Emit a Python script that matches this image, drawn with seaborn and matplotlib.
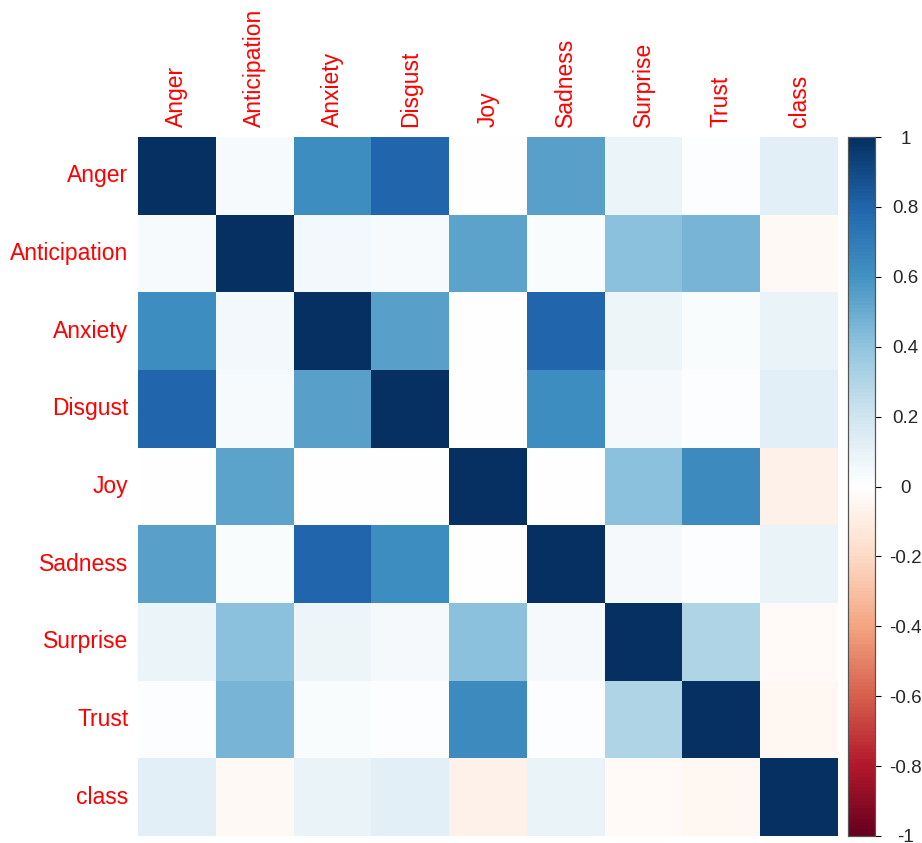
import numpy as np
import pandas as pd
import matplotlib
matplotlib.use("Agg")
import matplotlib.pyplot as plt
from matplotlib.colors import LinearSegmentedColormap
import seaborn as sns

labels = ["Anger", "Anticipation", "Anxiety", "Disgust", "Joy", "Sadness", "Surprise", "Trust", "class"]

anger        = [1.00, 0.03, 0.62, 0.79, 0.00, 0.54, 0.08, 0.01, 0.12]
anticipation = [0.03, 1.00, 0.05, 0.03, 0.53, 0.02, 0.41, 0.46, -0.04]
anxiety      = [0.62, 0.05, 1.00, 0.54, 0.00, 0.79, 0.07, 0.02, 0.09]
disgust      = [0.79, 0.03, 0.54, 1.00, 0.00, 0.62, 0.04, 0.01, 0.13]
joy          = [0.00, 0.53, 0.00, 0.00, 1.00, 0.00, 0.41, 0.63, -0.08]
sadness      = [0.54, 0.02, 0.79, 0.62, 0.00, 1.00, 0.04, 0.01, 0.09]
surprise     = [0.08, 0.41, 0.07, 0.04, 0.41, 0.04, 1.00, 0.30, -0.03]
trust        = [0.01, 0.46, 0.02, 0.01, 0.63, 0.01, 0.30, 1.00, -0.05]
class_row    = [0.12, -0.04, 0.09, 0.13, -0.08, 0.09, -0.03, -0.05, 1.00]

cbar_ticks = [-1, -0.8, -0.6, -0.4, -0.2, 0, 0.2, 0.4, 0.6, 0.8, 1]
cbar_labels = ["-1", "-0.8", "-0.6", "-0.4", "-0.2", "0", "0.2", "0.4", "0.6", "0.8", "1"]

df = pd.DataFrame([anger, anticipation, anxiety, disgust, joy, sadness, surprise, trust, class_row],
                  index=labels, columns=labels)

col2 = ["#67001F", "#B2182B", "#D6604D", "#F4A582", "#FDDBC7", "#FFFFFF",
        "#D1E5F0", "#92C5DE", "#4393C3", "#2166AC", "#053061"]
cmap = LinearSegmentedColormap.from_list("corrRdBu", col2, N=200)

sns.set_style("white")
plt.rcParams['font.family'] = ['Liberation Sans', 'DejaVu Sans']

fig = plt.figure(figsize=(9.22, 8.43), dpi=100)
ax = fig.add_axes([138/922, 1-836/843, 700/922, 699/843])
cax = fig.add_axes([848/922, 1-836/843, 27/922, 699/843])

sns.heatmap(df, ax=ax, cbar_ax=cax, cmap=cmap, vmin=-1, vmax=1, square=False,
            linewidths=0, cbar_kws={"ticks": cbar_ticks})

ax.xaxis.tick_top()
ax.set_xticklabels(labels, rotation=90, color="red", fontsize=16.5)
ax.set_yticklabels(labels, rotation=0, color="red", fontsize=16.5)
ax.tick_params(length=0, pad=7)
ax.set_xlabel("")
ax.set_ylabel("")

cax.set_yticks(cbar_ticks)
cax.set_yticklabels(cbar_labels, fontsize=13.5)
cax.tick_params(length=4, width=0.8, color="black", pad=18)
for lab in cax.get_yticklabels():
    lab.set_horizontalalignment("center")
for s in cax.spines.values():
    s.set_visible(True)
    s.set_color("#555555")
    s.set_linewidth(0.8)

fig.savefig("out.png", dpi=100)
